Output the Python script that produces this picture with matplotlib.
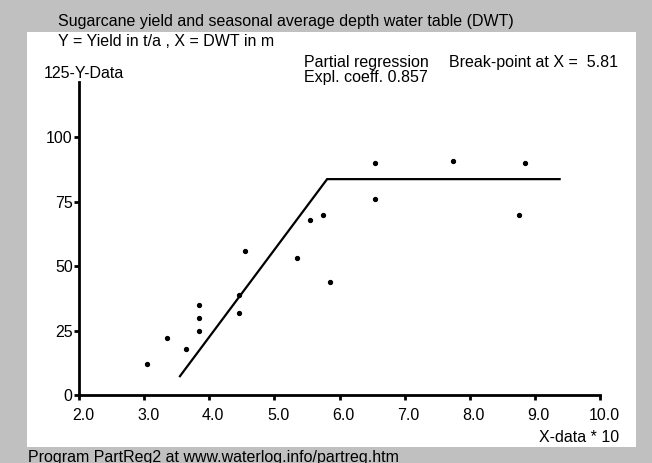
import matplotlib
matplotlib.use("Agg")
import matplotlib.pyplot as plt
from matplotlib.patches import Rectangle
from matplotlib.transforms import ScaledTranslation

plt.rcParams['font.family'] = ['Liberation Sans', 'DejaVu Sans']

# observed points (X-data * 10, yield t/a)
x_obs = [3.05, 3.35, 3.65, 3.85, 3.85, 3.85, 4.46, 4.46, 4.55, 5.35,
         5.55, 5.75, 5.86, 6.55, 6.55, 7.75, 8.85, 8.75]
y_obs = [12, 22, 18, 35, 30, 25, 39, 32, 56, 53,
         68, 70, 44, 90, 76, 91, 90, 70]

# fitted broken line
x_fit = [3.55, 5.81, 9.38]
y_fit = [7.3, 83.8, 83.8]

x_ticks = [2, 3, 4, 5, 6, 7, 8, 9, 10]
y_ticks = [0, 25, 50, 75, 100]
y_top = 125

W, H = 652, 463
fig = plt.figure(figsize=(W / 100, H / 100), dpi=100)
fig.patch.set_facecolor('#c0c0c0')

def fx(px):
    return px / W

def fy(py):
    return 1 - py / H

# white panel
fig.patches.append(Rectangle((fx(27), fy(447)), fx(636) - fx(27), fy(32) - fy(447),
                             transform=fig.transFigure, facecolor='white',
                             edgecolor='none', zorder=-5))

ax = fig.add_axes([fx(79), fy(395), fx(600) - fx(79), fy(73) - fy(395)])
ax.set_zorder(2)
ax.set_facecolor('none')
ax.set_xlim(2, 10)
ax.set_ylim(0, y_top)

ax.plot(x_fit, y_fit, color='black', lw=1.6, solid_joinstyle='miter', clip_on=False)
ax.plot(x_obs, y_obs, 'o', color='black', markersize=2.8, clip_on=False)

for s in ['top', 'right']:
    ax.spines[s].set_visible(False)
for s in ['left', 'bottom']:
    ax.spines[s].set_linewidth(2)
    ax.spines[s].set_color('black')
ax.spines['left'].set_bounds(0, 121.5)

fs = 11.5
ax.set_xticks(x_ticks)
ax.set_xticklabels([f'{v:.1f}' for v in x_ticks])
ax.set_yticks(y_ticks)
ax.set_yticklabels([str(v) for v in y_ticks])
ax.tick_params(axis='x', direction='out', length=3.5, width=2, pad=6, labelsize=fs)
ax.tick_params(axis='y', direction='out', length=3.5, width=2, pad=1, labelsize=fs)
for lbl in ax.get_xticklabels():
    lbl.set_transform(lbl.get_transform() + ScaledTranslation(4 / 100, 0, fig.dpi_scale_trans))

tc = 'black'
fig.text(fx(58), fy(26), 'Sugarcane yield and seasonal average depth water table (DWT)',
         fontsize=fs, color=tc, va='baseline')
fig.text(fx(58), fy(46), 'Y = Yield in t/a , X = DWT in m', fontsize=fs, color=tc, va='baseline')
fig.text(fx(304), fy(67), 'Partial regression', fontsize=fs, color=tc, va='baseline')
fig.text(fx(304), fy(82), 'Expl. coeff. 0.857', fontsize=fs, color=tc, va='baseline')
fig.text(fx(449), fy(67), 'Break-point at X =  5.81', fontsize=fs, color=tc, va='baseline')
fig.text(fx(44), fy(78), f'{y_top}-Y-Data', fontsize=fs, color=tc, va='baseline')
fig.text(fx(619), fy(442), 'X-data * 10', fontsize=fs, color=tc, va='baseline', ha='right')
fig.text(fx(28), fy(462), 'Program PartReg2 at www.waterlog.info/partreg.htm',
         fontsize=fs, color=tc, va='baseline')

fig.savefig('out.png', dpi=100, facecolor=fig.get_facecolor())
